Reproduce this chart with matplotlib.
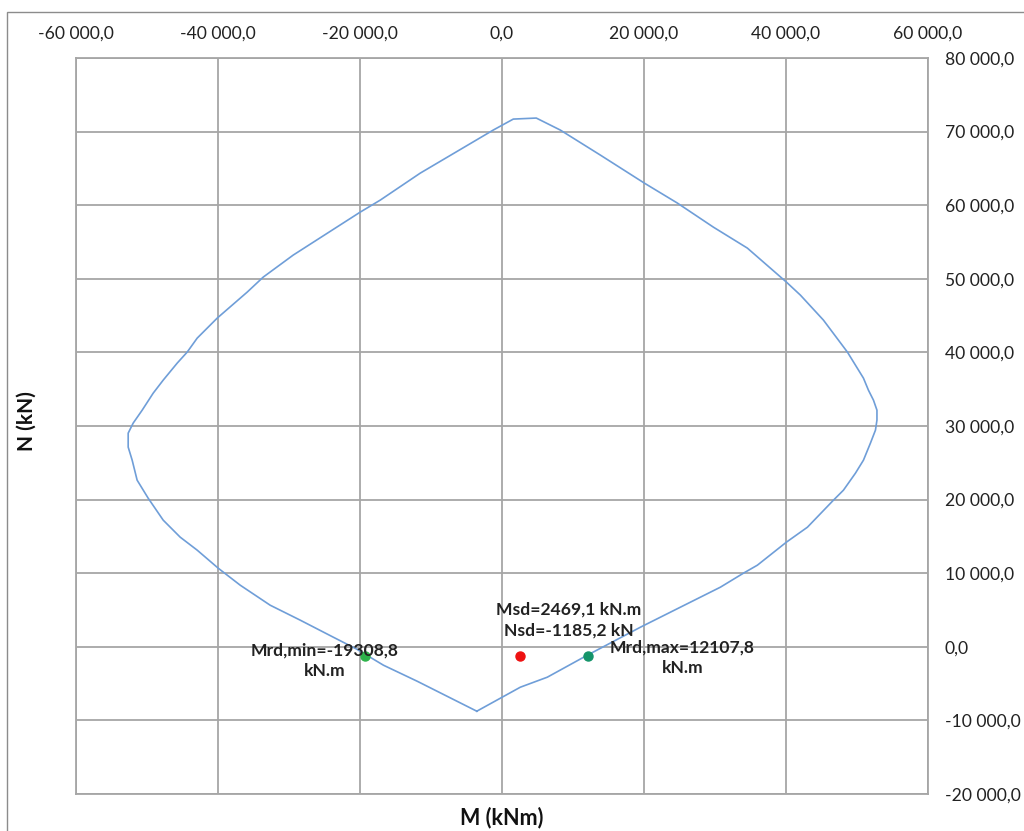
import matplotlib
matplotlib.use("Agg")
import matplotlib.pyplot as plt
from matplotlib.ticker import FuncFormatter
from matplotlib.patches import Rectangle

# Interaction diagram (M, N) of the section, kNm / kN
curve_m = [-3550, 2580, 6380, 12020, 19490, 25120, 30760, 34000, 35970, 40060,
           43020, 46680, 48090, 49780, 50910, 51890, 52600, 52810, 52810, 52320,
           51610, 50910, 48650, 45270, 42030, 40060, 34560, 29770, 24700, 20050,
           13850, 8210, 4830, 1590, -1230, -11510, -17150, -19970, -29410, -33630,
           -35890, -40110, -42930, -44340, -45750, -47720, -49130, -50680, -51950, -52650,
           -52650, -52090, -51390, -49840, -47720, -45330, -42930, -39970, -36870, -32650,
           -28420, -23770, -20500, -16700, -11900, -3550]
curve_n = [-8750, -5490, -4130, -1140, 2660, 5380, 8100, 10000, 11090, 14220,
           16250, 19920, 21280, 23590, 25360, 27670, 29440, 30800, 32150, 33510,
           34870, 36500, 40040, 44390, 47780, 49550, 54170, 57020, 60290, 63000,
           66810, 70210, 71840, 71700, 70210, 64360, 60690, 59060, 53220, 50230,
           48190, 44660, 41940, 40040, 38540, 36230, 34460, 32150, 30390, 29030,
           27130, 25360, 22640, 20200, 17210, 14900, 13130, 10680, 8370, 5650,
           3620, 1310, -300, -2500, -4700, -8750]

# Design actions and resisting moments
msd, nsd = 2469.1, -1185.2
mrd_min, mrd_max = -19308.8, 12107.8

x_ticks = [-60000, -40000, -20000, 0, 20000, 40000, 60000]
y_ticks = [-20000, -10000, 0, 10000, 20000, 30000, 40000, 50000, 60000, 70000, 80000]


def fmt(v):
    return f"{v:,.1f}".replace(",", " ").replace(".", ",")


def fmt_label(v):
    return f"{v:.1f}".replace(".", ",")


plt.rcParams['font.family'] = ['Lato', 'DejaVu Sans']

fig = plt.figure(figsize=(10.24, 8.31), dpi=100)
ax = fig.add_axes([76 / 1024, 1 - 794 / 831, (928 - 76) / 1024, (794 - 58) / 831])

grid_c = '#a6a6a6'
ax.set_xlim(x_ticks[0], x_ticks[-1])
ax.set_ylim(y_ticks[0], y_ticks[-1])
ax.set_xticks(x_ticks)
ax.set_yticks(y_ticks)
ax.grid(True, color=grid_c, linewidth=1.3)
ax.set_axisbelow(True)
for s in ax.spines.values():
    s.set_color(grid_c)
    s.set_linewidth(1.3)

ax.xaxis.tick_top()
ax.yaxis.tick_right()
ax.xaxis.set_major_formatter(FuncFormatter(lambda v, p: fmt(v)))
ax.yaxis.set_major_formatter(FuncFormatter(lambda v, p: fmt(v)))
ax.tick_params(axis='x', length=0, pad=12, labelsize=12.6, labelcolor='#222222')
ax.tick_params(axis='y', length=0, pad=12, labelsize=12.6, labelcolor='#222222')

ax.plot(curve_m, curve_n, color='#6f9ed8', linewidth=1.2, zorder=3)

ax.plot([msd], [nsd], 'o', color='#ee1111', markersize=6.5, zorder=4)
ax.plot([mrd_min], [nsd], 'o', color='#2db34a', markersize=6.5, zorder=4)
ax.plot([mrd_max], [nsd], 'o', color='#14946a', markersize=6.5, zorder=4)

lbl = dict(fontsize=12.6, fontweight='bold', color='#222222', ha='center',
           va='center', linespacing=1.4, zorder=5)
ax.text(msd + 6900, nsd + 4800,
        f"Msd={fmt_label(msd)} kN.m\nNsd={fmt_label(nsd)} kN", **lbl)
ax.text(mrd_min - 5700, nsd - 700,
        f"Mrd,min={fmt_label(mrd_min)}\nkN.m", **lbl)
ax.text(mrd_max + 13300, nsd - 300,
        f"Mrd,max={fmt_label(mrd_max)}\nkN.m", **lbl)

fig.text(27 / 1024, 1 - 421 / 831, "N (kN)", rotation=90, ha='center', va='center',
         fontsize=15, fontweight='bold', color='#111111')
fig.text(502 / 1024, 1 - 818 / 831, "M (kNm)", ha='center', va='center',
         fontsize=15.5, fontweight='bold', color='#111111')

# outer chart border
fig.patches.append(Rectangle((7 / 1024, -0.1), 1.2, (831 - 12) / 831 + 0.1,
                             transform=fig.transFigure, fill=False,
                             edgecolor='#8c8c8c', linewidth=1.0, clip_on=False))

fig.savefig('out.png', dpi=100)
